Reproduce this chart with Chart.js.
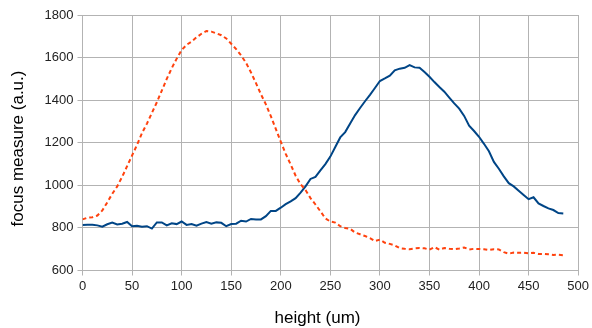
<!DOCTYPE html>
<html>
<head>
<meta charset="utf-8">
<script src="https://cdn.jsdelivr.net/npm/chart.js@4/dist/chart.umd.min.js"></script>
<style>
html,body{margin:0;padding:0;background:#fff;}
#wrap{width:592px;height:328px;}
</style>
</head>
<body>
<div id="wrap"><canvas id="c" width="592" height="328"></canvas></div>
<script>
const heights = [0,5,10,15,20,25,30,35,40,45,50,55,60,65,70,75,80,85,90,95,100,105,110,115,120,125,130,135,140,145,150,155,160,165,170,175,180,185,190,195,200,205,210,215,220,225,230,235,240,245,250,255,260,265,270,275,280,285,290,295,300,305,310,315,320,325,330,335,340,345,350,355,360,365,370,375,380,385,390,395,400,405,410,415,420,425,430,435,440,445,450,455,460,465,470,475,480,485];

const blueSeries = [814,815,815,812,806,817,825,816,820,828,808,810,806,808,797,826,826,812,822,818,830,814,818,810,820,828,820,826,824,808,818,820,834,830,842,840,840,855,880,880,895,912,925,940,966,995,1030,1040,1070,1100,1135,1180,1225,1250,1290,1330,1363,1395,1425,1457,1490,1502,1515,1540,1548,1552,1565,1554,1552,1532,1510,1485,1462,1440,1412,1385,1360,1326,1280,1255,1228,1195,1160,1110,1078,1042,1010,995,975,955,935,944,915,903,892,884,870,868];

const orangeSeries = [840,848,850,858,882,920,960,995,1040,1090,1140,1190,1245,1290,1340,1390,1445,1500,1550,1595,1635,1660,1675,1695,1712,1725,1722,1714,1705,1690,1665,1640,1610,1575,1530,1480,1428,1380,1325,1265,1205,1148,1098,1045,1005,978,940,910,878,845,830,825,808,800,796,778,770,762,752,738,745,730,725,718,705,702,700,704,706,704,698,710,698,706,702,700,703,708,699,702,701,700,696,700,699,686,679,684,683,684,681,683,678,678,676,673,674,672];

const xTitle = "height (um)";
const yTitle = "focus measure (a.u.)";

const toXY = (vals) => vals.map((v, i) => ({x: heights[i], y: v}));

const titlePlugin = {
  id: 'axisTitles',
  afterDraw(chart) {
    const ctx = chart.ctx;
    ctx.save();
    ctx.fillStyle = '#000';
    ctx.font = '17px "Liberation Sans", Arial, sans-serif';
    ctx.textAlign = 'center';
    ctx.textBaseline = 'alphabetic';
    ctx.fillText(xTitle, 317.5, 323);
    ctx.translate(22.5, 148.5);
    ctx.rotate(-Math.PI / 2);
    ctx.fillText(yTitle, 0, 0);
    ctx.restore();
  }
};

const tickFont = {family: '"Liberation Sans", Arial, sans-serif', size: 13};

new Chart(document.getElementById('c'), {
  type: 'line',
  data: {
    datasets: [
      {
        data: toXY(orangeSeries),
        borderColor: '#ff420e',
        borderWidth: 2,
        borderDash: [4, 3],
        pointRadius: 0,
        tension: 0,
        fill: false
      },
      {
        data: toXY(blueSeries),
        borderColor: '#004586',
        borderWidth: 2,
        pointRadius: 0,
        tension: 0,
        fill: false
      }
    ]
  },
  options: {
    responsive: false,
    animation: false,
    devicePixelRatio: 1,
    layout: {padding: {left: 0, right: 11, top: 15, bottom: 0}},
    plugins: {legend: {display: false}, tooltip: {enabled: false}},
    scales: {
      x: {
        type: 'linear',
        min: 0, max: 500,
        afterFit: (s) => { s.height = 57.5; },
        ticks: {stepSize: 50, color: '#222', padding: 3, maxRotation: 0, font: tickFont,
                callback: (v) => String(v)},
        grid: {color: '#b3b3b3', lineWidth: 1, tickLength: 5},
        border: {color: '#b3b3b3', width: 1}
      },
      y: {
        min: 600, max: 1800,
        afterFit: (s) => { s.width = 82.5; },
        ticks: {stepSize: 200, color: '#222', padding: 4, font: tickFont,
                callback: (v) => String(v)},
        grid: {color: '#b3b3b3', lineWidth: 1, tickLength: 5},
        border: {color: '#b3b3b3', width: 1}
      }
    }
  },
  plugins: [titlePlugin]
});
</script>
</body>
</html>
